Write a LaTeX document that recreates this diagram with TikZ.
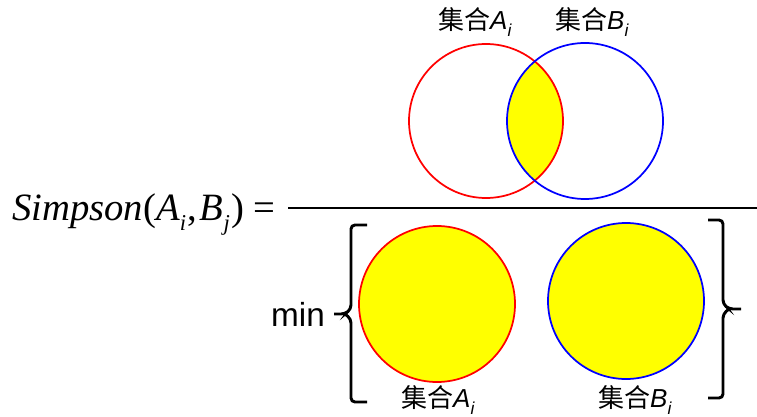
\documentclass[tikz,border=0pt]{standalone}
\usepackage{fontspec}
\setmainfont{Liberation Serif}
\setsansfont{Liberation Sans}
\newfontfamily\cjk{Noto Sans CJK SC}
\usetikzlibrary{positioning}
\definecolor{sa}{HTML}{FF0000}
\definecolor{sb}{HTML}{0000FF}
\definecolor{ov}{HTML}{FFFF00}
\newcommand{\Sb}[1]{\raisebox{-0.45ex}{\fontsize{13}{13}\selectfont\textit{#1}}}
\newcommand{\SetLbl}[1]{{\cjk 集合}\textit{#1}\Sb{i}}
\newcommand{\Tb}[1]{\raisebox{-0.6ex}{\fontsize{17}{17}\selectfont\textit{#1}}}

\begin{document}
\begin{tikzpicture}[x=0.75pt, y=-0.75pt,
    setlbl/.style={font=\sffamily\fontsize{19.5}{22}\selectfont, inner sep=0pt},
    ring/.style={circle, line width=1.3pt, inner sep=0pt},
    brace/.style={line width=2.2pt, rounded corners=3pt}]
  \useasboundingbox (0,0) rectangle (757,417);
  % numerator
  \begin{scope}
    \clip (486,121) circle [radius=57.75pt];
    \fill[ov] (585,121) circle [radius=58.5pt];
  \end{scope}
  \node[ring, draw=sa, minimum size=115.5pt] (ta) at (486,121) {};
  \node[ring, draw=sb, minimum size=117pt] (tb) at (585,121) {};
  \node[setlbl] (lta) at (475,22) {\SetLbl{A}};
  \node[setlbl] (ltb) at (592,22) {\SetLbl{B}};
  % fraction
  \coordinate (fl) at (288,208);
  \coordinate (fr) at (757,208);
  \draw[line width=2.2pt] (fl) -- (fr);
  \node[anchor=base west, inner sep=0pt, font=\fontsize{29}{32}\selectfont] (simp) at (12,220)
    {\textit{Simpson}(\textit{A}\Tb{i}\kern1pt,\kern2pt\textit{B}\Tb{j}\kern1pt) =};
  % denominator
  \node[ring, draw=sa, fill=ov, minimum size=117pt] (ba) at (437,304) {};
  \node[ring, draw=sb, fill=ov, minimum size=117pt] (bb) at (626,301) {};
  \node[setlbl] (lba) at (438,400) {\SetLbl{A}};
  \node[setlbl] (lbb) at (635,400) {\SetLbl{B}};
  \node[font=\sffamily\fontsize{25}{28}\selectfont, inner sep=0pt] (mn) at (298,314) {min};
  \draw[brace] (367,225) -- (351,225) -- (351,309) -- (345,314) -- (334,314);
  \draw[brace] (345,314) -- (351,319) -- (351,402) -- (367,402);
  \draw[brace] (708,220) -- (723,220) -- (723,304) -- (729,309) -- (741,309);
  \draw[brace] (729,309) -- (723,314) -- (723,398) -- (708,398);
\end{tikzpicture}
\end{document}
